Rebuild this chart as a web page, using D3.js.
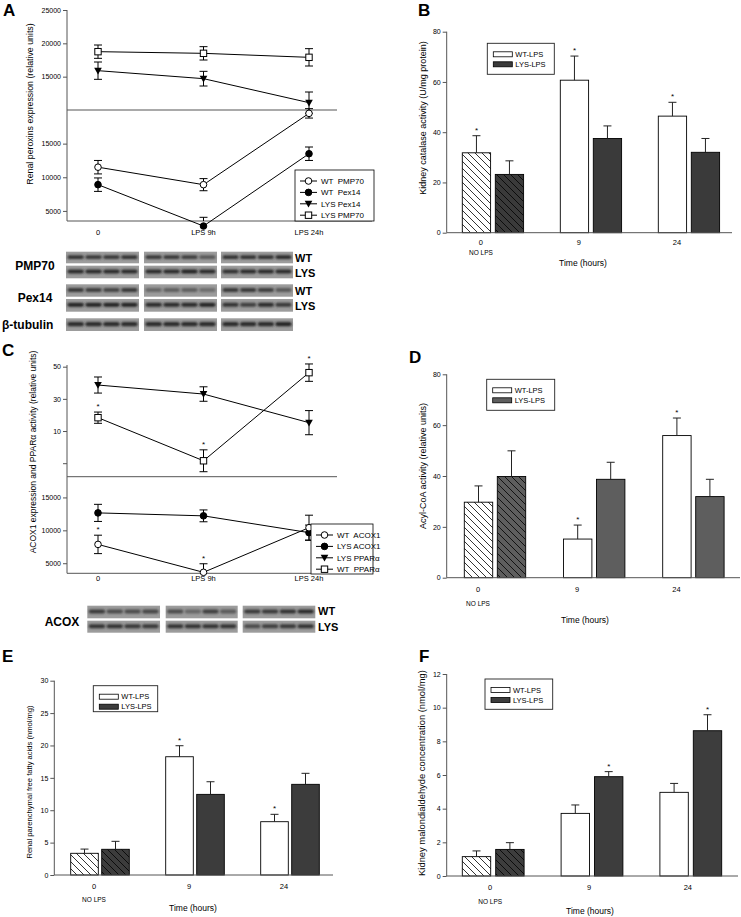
<!DOCTYPE html>
<html>
<head>
<meta charset="utf-8">
<title>Peroxisome panels</title>
<script src="https://cdn.jsdelivr.net/npm/d3@7"></script>
<style>
  body { margin:0; background:#fff; }
  svg text { font-family:"Liberation Sans", Arial, sans-serif; fill:#000; }
  .tick line { stroke:#555; }
  .lbl { font-weight:bold; font-size:17px; }
  .blotlbl { font-weight:bold; font-size:12px; }
  .lanelbl { font-weight:bold; font-size:11px; }
</style>
</head>
<body>
<svg id="fig" width="741" height="917"></svg>
<script>
// ---- data ----
var timeLabels = ["0", "LPS 9h", "LPS 24h"];

// panel A (WT on the lower scale, LYS on the upper scale)
var wtPMP70 = [11500, 8900, 19500], wtPMP70Err = [1000, 900, 700];
var wtPex14 = [8900, 2750, 13500], wtPex14Err = [1000, 1300, 1000];
var lysPex14 = [15900, 14700, 11100], lysPex14Err = [1300, 1100, 1600];
var lysPMP70 = [18750, 18500, 17900], lysPMP70Err = [1000, 1000, 1300];

// panel C (ACOX1 lower scale, PPARa upper scale)
var wtACOX1 = [7860, 3620, 10400], wtACOX1Err = [1400, 1300, 1900];
var lysACOX1 = [12650, 12200, 9650], lysACOX1Err = [1300, 900, 1150];
var lysPPARa = [38.6, 33, 15.2], lysPPARaErr = [5, 4.5, 7.5];
var wtPPARa = [18.3, -8.5, 46.3], wtPPARaErr = [3.5, 6.8, 5.4];
var wtACOX1Star = [1, 1, 0], wtPPARaStar = [1, 1, 1];

// bar panels
var barGroups = ["0", "9", "24"];
var barSeries = ["WT-LPS", "LYS-LPS"];

var catalaseWT = [31.8, 60.7, 46.4], catalaseWTErr = [6.8, 9.6, 5.5];
var catalaseLYS = [23.2, 37.5, 32], catalaseLYSErr = [5.4, 5, 5.5];
var catalaseWTStar = [1, 1, 1], catalaseLYSStar = [0, 0, 0];

var acylWT = [29.7, 15.2, 55.9], acylWTErr = [6.4, 5.5, 6.9];
var acylLYS = [39.8, 38.7, 31.9], acylLYSErr = [10.1, 6.7, 6.8];
var acylWTStar = [0, 1, 1], acylLYSStar = [0, 0, 0];

var ffaWT = [3.35, 18.26, 8.23], ffaWTErr = [0.65, 1.7, 1.14];
var ffaLYS = [3.97, 12.45, 14.0], ffaLYSErr = [1.23, 1.95, 1.7];
var ffaWTStar = [0, 1, 1], ffaLYSStar = [0, 0, 0];

var mdaWT = [1.15, 3.72, 4.97], mdaWTErr = [0.34, 0.5, 0.53];
var mdaLYS = [1.58, 5.9, 8.63], mdaLYSErr = [0.4, 0.3, 0.95];
var mdaWTStar = [0, 0, 0], mdaLYSStar = [0, 1, 1];

// western blot band darkness (0..1), 3 blocks x 4 lanes
var blotPMP70WT = [[.8,.75,.75,.8],[.75,.75,.7,.5],[.8,.8,.8,.85]];
var blotPMP70LYS = [[.85,.85,.85,.85],[.85,.85,.9,.85],[.8,.85,.85,.85]];
var blotPex14WT = [[.75,.7,.65,.75],[.4,.45,.45,.35],[.75,.75,.7,.5]];
var blotPex14LYS = [[.9,.9,.9,.9],[.85,.85,.85,.9],[.8,.7,.85,.75]];
var blotTubulin = [[.85,.85,.85,.85],[.85,.85,.85,.85],[.85,.85,.85,.9]];
var blotACOXWT = [[.75,.6,.6,.65],[.6,.4,.7,.5],[.75,.75,.8,.85]];
var blotACOXLYS = [[.8,.8,.75,.75],[.8,.8,.8,.8],[.6,.7,.75,.8]];

// ---- drawing ----
var svg = d3.select("#fig");
var defs = svg.append("defs");
defs.append("filter").attr("id", "blur").attr("x", "-20%").attr("y", "-50%").attr("width", "140%").attr("height", "200%")
  .append("feGaussianBlur").attr("stdDeviation", 0.9);

function hatch(id, bg) {
  var p = defs.append("pattern").attr("id", id).attr("patternUnits", "userSpaceOnUse")
    .attr("width", 7).attr("height", 7);
  p.append("rect").attr("width", 7).attr("height", 7).attr("fill", bg);
  p.append("path").attr("d", "M-1,-1L8,8M-1,6L1,8M6,-1L8,1")
    .attr("stroke", "#000").attr("stroke-width", 0.8);
}

function txt(g, x, y, s, size, anchor) {
  return g.append("text").attr("x", x).attr("y", y).attr("font-size", size)
    .attr("text-anchor", anchor || "start").text(s);
}

function vtitle(g, x, y, s, size) {
  g.append("text").attr("transform", "translate(" + x + "," + y + ") rotate(-90)")
    .attr("text-anchor", "middle").attr("font-size", size).text(s);
}

function marker(g, type, cx, cy) {
  if (type == "oc" || type == "fc") {
    g.append("circle").attr("cx", cx).attr("cy", cy).attr("r", 3.3)
      .attr("fill", type == "oc" ? "#fff" : "#000").attr("stroke", "#000").attr("stroke-width", 1);
  } else if (type == "sq") {
    g.append("rect").attr("x", cx - 3.2).attr("y", cy - 3.2).attr("width", 6.4).attr("height", 6.4)
      .attr("fill", "#fff").attr("stroke", "#000").attr("stroke-width", 1);
  } else {
    g.append("path").attr("transform", "translate(" + cx + "," + cy + ")")
      .attr("d", "M-3.8,-3L3.8,-3L0,3.8Z").attr("fill", "#000");
  }
}

function drawLinePanel(o) {
  var g = svg.append("g");
  var x = d3.scalePoint().domain(timeLabels).range(o.xRange);

  g.append("line").attr("x1", o.axisX).attr("x2", o.axisX).attr("y1", o.top).attr("y2", o.bottom)
    .attr("stroke", "#555");
  g.append("line").attr("x1", o.axisX).attr("x2", o.xEnd).attr("y1", o.bottom).attr("y2", o.bottom)
    .attr("stroke", "#555");
  g.append("line").attr("x1", o.axisX).attr("x2", o.breakEnd).attr("y1", o.breakY).attr("y2", o.breakY)
    .attr("stroke", "#555");

  [[o.upper, o.upperTicks, o.upperFmt], [o.lower, o.lowerTicks, o.lowerFmt]].forEach(function (a) {
    var ax = g.append("g").attr("transform", "translate(" + o.axisX + ",0)")
      .call(d3.axisLeft(a[0]).tickValues(a[1]).tickSize(4).tickPadding(2).tickFormat(a[2]))
      .attr("font-size", 7);
    ax.select(".domain").remove();
  });

  timeLabels.forEach(function (t) { txt(g, x(t), o.tickY, t, 7.5, "middle"); });
  vtitle(g, o.titleX, o.titleY, o.title, o.titleSize);

  o.series.forEach(function (s) {
    var sc = s.upper ? o.upper : o.lower;
    var line = d3.line().x(function (d, i) { return x(timeLabels[i]); }).y(function (d) { return sc(d); });
    g.append("path").attr("d", line(s.v)).attr("fill", "none").attr("stroke", "#000").attr("stroke-width", 1);
  });
  o.series.forEach(function (s) {
    var sc = s.upper ? o.upper : o.lower;
    s.v.forEach(function (v, i) {
      var cx = x(timeLabels[i]);
      var y1 = Math.min(sc(v - s.e[i]), o.bottom), y2 = sc(v + s.e[i]);
      g.append("line").attr("x1", cx).attr("x2", cx).attr("y1", y1).attr("y2", y2).attr("stroke", "#000");
      g.append("line").attr("x1", cx - 4).attr("x2", cx + 4).attr("y1", y2).attr("y2", y2).attr("stroke", "#000");
      if (y1 < o.bottom)
        g.append("line").attr("x1", cx - 4).attr("x2", cx + 4).attr("y1", y1).attr("y2", y1).attr("stroke", "#000");
      if (s.star && s.star[i]) txt(g, cx, y2 - 3, "*", 8, "middle");
    });
  });
  o.series.forEach(function (s) {
    var sc = s.upper ? o.upper : o.lower;
    s.v.forEach(function (v, i) { marker(g, s.sym, x(timeLabels[i]), sc(v)); });
  });

  var L = o.legend;
  g.append("rect").attr("x", L.x).attr("y", L.y).attr("width", L.w).attr("height", L.h)
    .attr("fill", "#fff").attr("stroke", "#000").attr("stroke-width", 0.8);
  o.legendOrder.forEach(function (s, i) {
    var yy = L.y + 11 + i * 11.4;
    g.append("line").attr("x1", L.x + 5).attr("x2", L.x + 22).attr("y1", yy).attr("y2", yy).attr("stroke", "#000");
    marker(g, s.sym, L.x + 13.5, yy);
    txt(g, L.x + 26, yy + 3, s.name, 8).attr("xml:space", "preserve").style("white-space", "pre");
  });
}

function drawBarPanel(o) {
  var g = svg.append("g");
  var y = d3.scaleLinear().domain([0, o.ymax]).range([o.y0, o.yTop]);
  var S = o.step, B = 2 * o.bw + o.gap, pad = 1 - B / S;
  var r0 = o.left - pad / 2 * S;
  var x = d3.scaleBand().domain(barGroups).range([r0, r0 + 3 * S]).paddingInner(pad).paddingOuter(pad / 2);
  var xs = d3.scaleBand().domain(barSeries).range([0, x.bandwidth()]).paddingInner(o.gap / (o.bw + o.gap));

  hatch(o.id + "hw", "#fff");
  hatch(o.id + "hd", o.dark);

  var rows = [];
  barGroups.forEach(function (gn, i) {
    rows.push({ g: gn, s: barSeries[0], v: o.wt[i], e: o.wtErr[i], star: o.wtStar[i] });
    rows.push({ g: gn, s: barSeries[1], v: o.lys[i], e: o.lysErr[i], star: o.lysStar[i] });
  });

  g.selectAll("rect.bar").data(rows).enter().append("rect").attr("class", "bar")
    .attr("x", function (d) { return x(d.g) + xs(d.s); })
    .attr("y", function (d) { return y(d.v); })
    .attr("width", xs.bandwidth())
    .attr("height", function (d) { return y(0) - y(d.v); })
    .attr("fill", function (d) {
      var wt = d.s == barSeries[0];
      if (d.g == barGroups[0]) return "url(#" + o.id + (wt ? "hw" : "hd") + ")";
      return wt ? "#fff" : o.dark;
    })
    .attr("stroke", "#000").attr("stroke-width", 0.9);

  rows.forEach(function (d) {
    var cx = x(d.g) + xs(d.s) + xs.bandwidth() / 2, yt = y(d.v + d.e);
    g.append("line").attr("x1", cx).attr("x2", cx).attr("y1", y(d.v)).attr("y2", yt).attr("stroke", "#222");
    g.append("line").attr("x1", cx - 4).attr("x2", cx + 4).attr("y1", yt).attr("y2", yt).attr("stroke", "#222");
    if (d.star) txt(g, cx, yt - 3, "*", 8, "middle");
  });

  g.append("line").attr("x1", o.axisX).attr("x2", o.axisX).attr("y1", o.yTop).attr("y2", o.y0).attr("stroke", "#555");
  g.append("line").attr("x1", o.axisX).attr("x2", o.xEnd).attr("y1", o.y0).attr("y2", o.y0).attr("stroke", "#555");
  var ax = g.append("g").attr("transform", "translate(" + o.axisX + ",0)")
    .call(d3.axisLeft(y).tickValues(d3.range(0, o.ymax + 0.001, o.tickStep)).tickSize(4).tickPadding(2))
    .attr("font-size", 7);
  ax.select(".domain").remove();

  barGroups.forEach(function (gn) {
    txt(g, x(gn) + x.bandwidth() / 2 + o.labelShift, o.y0 + o.tickDy, gn, 7.5, "middle");
  });
  txt(g, x(barGroups[0]) + x.bandwidth() / 2 + o.labelShift, o.y0 + o.noLpsDy, "NO LPS", 6.5, "middle");
  txt(g, o.timeX, o.y0 + o.timeDy, "Time (hours)", 8.5, "middle");
  vtitle(g, o.titleX, o.titleY, o.title, o.titleSize);

  var L = o.legend;
  g.append("rect").attr("x", L.x).attr("y", L.y).attr("width", L.w).attr("height", L.h)
    .attr("fill", "#fff").attr("stroke", "#222").attr("stroke-width", 0.9);
  barSeries.forEach(function (s, i) {
    var yy = L.y + 8.5 + i * 10;
    g.append("rect").attr("x", L.x + 6).attr("y", yy).attr("width", 19).attr("height", 5)
      .attr("fill", i == 0 ? "#fff" : o.dark).attr("stroke", "#000").attr("stroke-width", 0.8);
    txt(g, L.x + 28, yy + 5, s, 7.5);
  });
}

function drawBlot(rowsY, blocksX, levels) {
  var g = svg.append("g");
  rowsY.forEach(function (ry, r) {
    blocksX.forEach(function (bx, b) {
      g.append("rect").attr("x", bx[0]).attr("y", ry[0]).attr("width", bx[1] - bx[0]).attr("height", ry[1] - ry[0])
        .attr("fill", "#9c9c9c");
      var lane = d3.scaleBand().domain(d3.range(4)).range(bx).padding(0.08);
      levels[r][b].forEach(function (lv, k) {
        var h = ry[1] - ry[0];
        g.append("rect").attr("x", lane(k)).attr("y", ry[0] + h * 0.3).attr("width", lane.bandwidth())
          .attr("height", h * 0.32).attr("rx", 2)
          .attr("fill", d3.interpolateRgb("#9c9c9c", "#151515")(lv)).attr("filter", "url(#blur)");
      });
    });
  });
  return g;
}

// panel letters
var lettersG = svg.append("g");
[["A", 3, 16], ["B", 418, 16], ["C", 2, 356], ["D", 409, 363], ["E", 2, 662], ["F", 419, 662]].forEach(function (l) {
  lettersG.append("text").attr("class", "lbl").attr("x", l[1]).attr("y", l[2]).text(l[0]);
});

// Panel A
var seriesA = {
  wtPMP: { name: "WT  PMP70", v: wtPMP70, e: wtPMP70Err, sym: "oc", upper: false },
  wtPex: { name: "WT  Pex14", v: wtPex14, e: wtPex14Err, sym: "fc", upper: false },
  lysPex: { name: "LYS Pex14", v: lysPex14, e: lysPex14Err, sym: "tri", upper: true },
  lysPMP: { name: "LYS PMP70", v: lysPMP70, e: lysPMP70Err, sym: "sq", upper: true }
};
drawLinePanel({
  axisX: 67, top: 10, bottom: 221, xRange: [98, 309], xEnd: 372, breakY: 110, breakEnd: 337,
  upper: d3.scaleLinear().domain([10000, 25000]).range([110, 10]),
  lower: d3.scaleLinear().domain([3500, 20000]).range([221, 110]),
  upperTicks: [15000, 20000, 25000], lowerTicks: [5000, 10000, 15000],
  upperFmt: d3.format("d"), lowerFmt: d3.format("d"),
  tickY: 235,
  title: "Renal peroxins expression (relative units)", titleX: 33, titleY: 104, titleSize: 8.8,
  series: [seriesA.lysPMP, seriesA.lysPex, seriesA.wtPMP, seriesA.wtPex],
  legendOrder: [seriesA.wtPMP, seriesA.wtPex, seriesA.lysPex, seriesA.lysPMP],
  legend: { x: 295, y: 170, w: 79, h: 51 }
});

// Panel A blots
var blotBlocksA = [[66, 139], [144, 217], [221, 293]];
var blotRowsA = [[251.7, 263.3], [265.7, 278.3], [284.3, 296.7], [299, 311.7], [318.3, 331]];
drawBlot(blotRowsA, blotBlocksA, [blotPMP70WT, blotPMP70LYS, blotPex14WT, blotPex14LYS, blotTubulin]);
var blotTextA = svg.append("g");
blotTextA.append("text").attr("class", "blotlbl").attr("x", 35).attr("y", 270).attr("text-anchor", "middle").text("PMP70");
blotTextA.append("text").attr("class", "blotlbl").attr("x", 35).attr("y", 302).attr("text-anchor", "middle").text("Pex14");
blotTextA.append("text").attr("class", "blotlbl").attr("x", 2).attr("y", 329).text("β-tubulin");
[["WT", 262], ["LYS", 276.5], ["WT", 295], ["LYS", 309.5]].forEach(function (l) {
  blotTextA.append("text").attr("class", "lanelbl").attr("x", 295).attr("y", l[1]).text(l[0]);
});

// Panel C
var seriesC = {
  wtACOX: { name: "WT  ACOX1", v: wtACOX1, e: wtACOX1Err, sym: "oc", upper: false, star: wtACOX1Star },
  lysACOX: { name: "LYS ACOX1", v: lysACOX1, e: lysACOX1Err, sym: "fc", upper: false },
  lysPP: { name: "LYS PPARα", v: lysPPARa, e: lysPPARaErr, sym: "tri", upper: true },
  wtPP: { name: "WT  PPARα", v: wtPPARa, e: wtPPARaErr, sym: "sq", upper: true, star: wtPPARaStar }
};
drawLinePanel({
  axisX: 67, top: 365, bottom: 573.3, xRange: [98, 309], xEnd: 372, breakY: 476.7, breakEnd: 337,
  upper: d3.scaleLinear().domain([-18.4, 50]).range([476.7, 366.7]),
  lower: d3.scaleLinear().domain([3470, 18150]).range([573.3, 476.7]),
  upperTicks: [-10, 10, 30, 50], lowerTicks: [5000, 10000, 15000],
  upperFmt: function (d) { return d < 0 ? "" : d; }, lowerFmt: d3.format("d"),
  tickY: 581,
  title: "ACOX1 expression and PPARα activity (relative units)", titleX: 36, titleY: 452, titleSize: 8.5,
  series: [seriesC.lysPP, seriesC.wtPP, seriesC.lysACOX, seriesC.wtACOX],
  legendOrder: [seriesC.wtACOX, seriesC.lysACOX, seriesC.lysPP, seriesC.wtPP],
  legend: { x: 311, y: 524, w: 62, h: 50 }
});

// Panel C blot
drawBlot([[605.7, 618.3], [620.7, 632.7]], [[87.3, 160], [165.7, 237.7], [242.7, 315.3]], [blotACOXWT, blotACOXLYS]);
var blotTextC = svg.append("g");
blotTextC.append("text").attr("class", "blotlbl").attr("x", 62).attr("y", 626).attr("text-anchor", "middle").text("ACOX");
blotTextC.append("text").attr("class", "lanelbl").attr("x", 318).attr("y", 615).text("WT");
blotTextC.append("text").attr("class", "lanelbl").attr("x", 318).attr("y", 630.5).text("LYS");

// Panel B
drawBarPanel({
  id: "b", wt: catalaseWT, wtErr: catalaseWTErr, lys: catalaseLYS, lysErr: catalaseLYSErr,
  wtStar: catalaseWTStar, lysStar: catalaseLYSStar, dark: "#3a3a3a",
  ymax: 80, tickStep: 20, y0: 232.7, yTop: 31.7, axisX: 446.7, xEnd: 732,
  left: 462.3, step: 98, bw: 28.3, gap: 4.7, labelShift: -12,
  tickDy: 12.5, noLpsDy: 22, timeX: 583, timeDy: 33,
  title: "Kidney catalase activity (U/mg protein)", titleX: 426, titleY: 118, titleSize: 9,
  legend: { x: 487.3, y: 43.3, w: 67, h: 31 }
});

// Panel D
drawBarPanel({
  id: "d", wt: acylWT, wtErr: acylWTErr, lys: acylLYS, lysErr: acylLYSErr,
  wtStar: acylWTStar, lysStar: acylLYSStar, dark: "#5e5e5e",
  ymax: 80, tickStep: 20, y0: 577.7, yTop: 374.3, axisX: 446.7, xEnd: 740,
  left: 464.3, step: 99.2, bw: 28.4, gap: 4.6, labelShift: -17,
  tickDy: 14, noLpsDy: 28, timeX: 585, timeDy: 45,
  title: "Acyl-CoA activity (relative units)", titleX: 426, titleY: 466, titleSize: 9,
  legend: { x: 486.7, y: 379.3, w: 68, h: 31 }
});

// Panel E
drawBarPanel({
  id: "e", wt: ffaWT, wtErr: ffaWTErr, lys: ffaLYS, lysErr: ffaLYSErr,
  wtStar: ffaWTStar, lysStar: ffaLYSStar, dark: "#3c3c3c",
  ymax: 30, tickStep: 5, y0: 875, yTop: 680.7, axisX: 54.3, xEnd: 333,
  left: 70.7, step: 95, bw: 27.6, gap: 3.4, labelShift: -6,
  tickDy: 13.5, noLpsDy: 27, timeX: 193, timeDy: 36,
  title: "Renal parenchymal free fatty acids (nmol/mg)", titleX: 32, titleY: 782, titleSize: 7.6,
  legend: { x: 93.3, y: 685.7, w: 64.4, h: 26 }
});

// Panel F
drawBarPanel({
  id: "f", wt: mdaWT, wtErr: mdaWTErr, lys: mdaLYS, lysErr: mdaLYSErr,
  wtStar: mdaWTStar, lysStar: mdaLYSStar, dark: "#3d3d3d",
  ymax: 12, tickStep: 2, y0: 876, yTop: 674, axisX: 446.7, xEnd: 738,
  left: 462.3, step: 98.8, bw: 28.4, gap: 5, labelShift: -3,
  tickDy: 13.5, noLpsDy: 28, timeX: 590, timeDy: 37.5,
  title: "Kidney malondialdehyde concentration (nmol/mg)", titleX: 425, titleY: 773, titleSize: 9.4,
  legend: { x: 485, y: 679, w: 67.7, h: 30.3 }
});
</script>
</body>
</html>
